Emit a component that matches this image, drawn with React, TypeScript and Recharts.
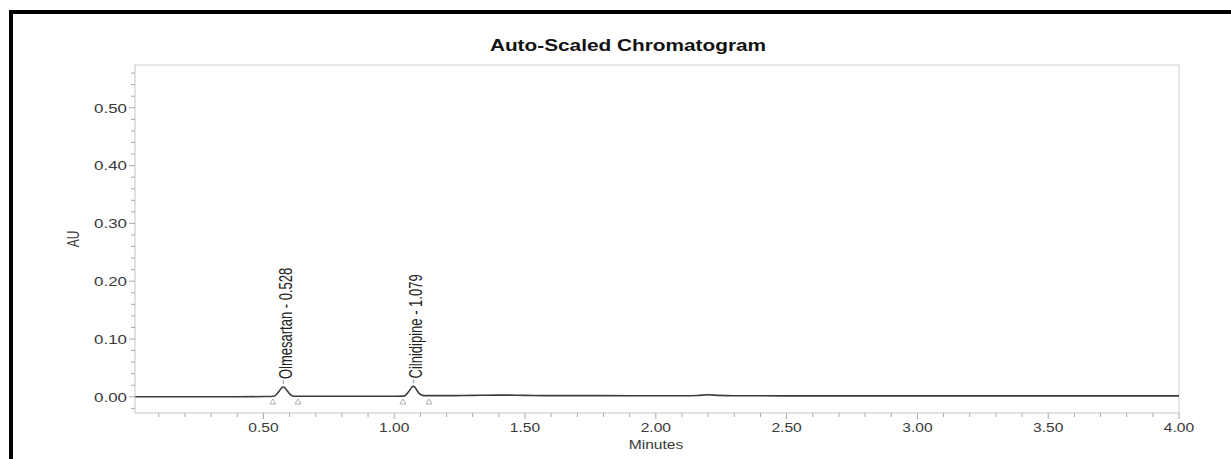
import React from 'react';
import {
  ComposedChart,
  Line,
  Scatter,
  XAxis,
  YAxis,
  ReferenceLine,
} from 'recharts';

// retention time (minutes) and detector response (AU)
const traceTimes = [
  0.009, 0.2, 0.4, 0.5, 0.54, 0.552, 0.562, 0.57, 0.576, 0.582, 0.59, 0.6, 0.612, 0.625,
  0.8, 1.0, 1.038, 1.05, 1.06, 1.067, 1.073, 1.079, 1.087, 1.097, 1.108, 1.12, 1.2, 1.3,
  1.4, 1.5, 1.6, 1.8, 2.0, 2.1, 2.16, 2.2, 2.24, 2.3, 2.5, 3.0, 3.5, 4.0,
];
const traceAbsorbance = [
  0.0, 0.0, 0.0, 0.0005, 0.001, 0.005, 0.011, 0.0155, 0.017, 0.0155, 0.011, 0.005, 0.0015, 0.001,
  0.001, 0.001, 0.0012, 0.006, 0.012, 0.0165, 0.018, 0.0165, 0.011, 0.005, 0.0025, 0.002, 0.002, 0.0025,
  0.003, 0.0025, 0.002, 0.002, 0.0018, 0.0018, 0.0024, 0.0035, 0.0025, 0.0018, 0.0017, 0.0017, 0.0016, 0.0016,
];

// peak apex + label
const peakNames = ['Olmesartan - 0.528', 'Cilnidipine - 1.079'];
const peakTimes = [0.576, 1.073];
const peakHeights = [0.017, 0.018];

// integration start/end markers
const markerTimes = [0.536, 0.632, 1.033, 1.133];
const markerLevel = -0.008;

const xTicks = [
  0.1, 0.2, 0.3, 0.4, 0.5, 0.6, 0.7, 0.8, 0.9, 1.0, 1.1, 1.2, 1.3, 1.4, 1.5, 1.6, 1.7, 1.8, 1.9, 2.0,
  2.1, 2.2, 2.3, 2.4, 2.5, 2.6, 2.7, 2.8, 2.9, 3.0, 3.1, 3.2, 3.3, 3.4, 3.5, 3.6, 3.7, 3.8, 3.9, 4.0,
];
const yTicks = [
  -0.02, 0.0, 0.02, 0.04, 0.06, 0.08, 0.1, 0.12, 0.14, 0.16, 0.18, 0.2, 0.22, 0.24, 0.26, 0.28,
  0.3, 0.32, 0.34, 0.36, 0.38, 0.4, 0.42, 0.44, 0.46, 0.48, 0.5, 0.52, 0.54, 0.56,
];

const xDomain: [number, number] = [0.009, 4.0];
const yDomain: [number, number] = [-0.028, 0.574];

const traceData = traceTimes.map((t, i) => ({ t, v: traceAbsorbance[i] }));
const peakData = peakTimes.map((t, i) => ({ t, v: peakHeights[i], name: peakNames[i] }));
const markerData = markerTimes.map((t) => ({ t, v: markerLevel }));

const font = '"Liberation Sans", Arial, sans-serif';
const stretch = 1.3;
const tickColor = '#a8a8a8';
const labelColor = '#3a3a3a';

function XTick(props: any) {
  const { x, y, payload } = props;
  const val: number = payload.value;
  const major = Math.round(val * 10) % 5 === 0;
  return (
    <g>
      <line x1={x} y1={y} x2={x} y2={y + (major ? 6 : 4)} stroke={tickColor} />
      {major && (
        <text
          transform={`translate(${x},${y + 15}) scale(${stretch},1)`}
          textAnchor="middle"
          dominantBaseline="central"
          fontFamily={font}
          fontSize={12}
          fill={labelColor}
        >
          {val.toFixed(2)}
        </text>
      )}
    </g>
  );
}

function YTick(props: any) {
  const { x, y, payload } = props;
  const val: number = payload.value;
  const major = Math.round(val * 100) % 10 === 0;
  return (
    <g>
      <line x1={x} y1={y} x2={x - (major ? 6 : 4)} y2={y} stroke={tickColor} />
      {major && (
        <text
          transform={`translate(${x - 8},${y}) scale(${stretch},1)`}
          textAnchor="end"
          dominantBaseline="central"
          fontFamily={font}
          fontSize={13}
          fill={labelColor}
        >
          {val.toFixed(2)}
        </text>
      )}
    </g>
  );
}

function PeakLabel(props: any) {
  const { cx, cy, payload } = props;
  return (
    <g>
      <line x1={cx} y1={cy - 3} x2={cx} y2={cy - 7} stroke="#999" />
      <text
        transform={`translate(${cx + 2},${cy - 8}) scale(1.35,1) rotate(-90)`}
        textAnchor="start"
        dominantBaseline="central"
        fontFamily={font}
        fontSize={13}
        fill="#222"
      >
        {payload.name}
      </text>
    </g>
  );
}

function BaseMarker(props: any) {
  const { cx, cy } = props;
  return (
    <path
      d={`M${cx - 3},${cy + 2.5} L${cx},${cy - 2.5} L${cx + 3},${cy + 2.5} Z`}
      fill="none"
      stroke="#b0b0b0"
      strokeWidth={1}
    />
  );
}

export default function App(): React.JSX.Element {
  return (
    <div
      style={{
        position: 'absolute',
        left: 0,
        top: 0,
        width: 1231,
        height: 459,
        background: '#fff',
        overflow: 'hidden',
      }}
    >
      <div
        style={{
          position: 'absolute',
          left: 9,
          top: 10,
          right: 0,
          bottom: 0,
          borderLeft: '4px solid #000',
          borderTop: '4px solid #000',
        }}
      />
      <div
        style={{
          position: 'absolute',
          left: 628,
          top: 46,
          transform: `translate(-50%, -50%) scaleX(${stretch})`,
          fontFamily: font,
          fontWeight: 700,
          fontSize: 16,
          color: '#111',
          whiteSpace: 'nowrap',
        }}
      >
        Auto-Scaled Chromatogram
      </div>
      <div
        style={{
          position: 'absolute',
          left: 74,
          top: 239,
          transform: `translate(-50%, -50%) scaleX(${stretch}) rotate(-90deg)`,
          fontFamily: font,
          fontSize: 12,
          color: labelColor,
          whiteSpace: 'nowrap',
        }}
      >
        AU
      </div>
      <div
        style={{
          position: 'absolute',
          left: 656,
          top: 445,
          transform: `translate(-50%, -50%) scaleX(${stretch})`,
          fontFamily: font,
          fontSize: 12,
          color: labelColor,
          whiteSpace: 'nowrap',
        }}
      >
        Minutes
      </div>
      <div style={{ position: 'absolute', left: 0, top: 0 }}>
        <ComposedChart
          width={1231}
          height={459}
          margin={{ top: 65, right: 52, bottom: 0, left: 0 }}
        >
          <XAxis
            dataKey="t"
            type="number"
            domain={xDomain}
            allowDataOverflow
            ticks={xTicks}
            interval={0}
            height={46}
            tickSize={0}
            tickMargin={0}
            tickLine={false}
            tick={<XTick />}
            axisLine={{ stroke: '#c4c4c4' }}
          />
          <YAxis
            type="number"
            domain={yDomain}
            allowDataOverflow
            ticks={yTicks}
            interval={0}
            width={135}
            tickSize={0}
            tickMargin={0}
            tickLine={false}
            tick={<YTick />}
            axisLine={{ stroke: '#c4c4c4' }}
          />
          <ReferenceLine y={yDomain[1]} stroke="#cfcfcf" />
          <ReferenceLine x={xDomain[1]} stroke="#cfcfcf" />
          <Line
            data={traceData}
            dataKey="v"
            type="monotone"
            stroke="#3c3c3c"
            strokeWidth={1.6}
            dot={false}
            activeDot={false}
            isAnimationActive={false}
          />
          <Scatter
            data={markerData}
            dataKey="v"
            shape={<BaseMarker />}
            isAnimationActive={false}
          />
          <Scatter
            data={peakData}
            dataKey="v"
            shape={<PeakLabel />}
            isAnimationActive={false}
          />
        </ComposedChart>
      </div>
    </div>
  );
}
